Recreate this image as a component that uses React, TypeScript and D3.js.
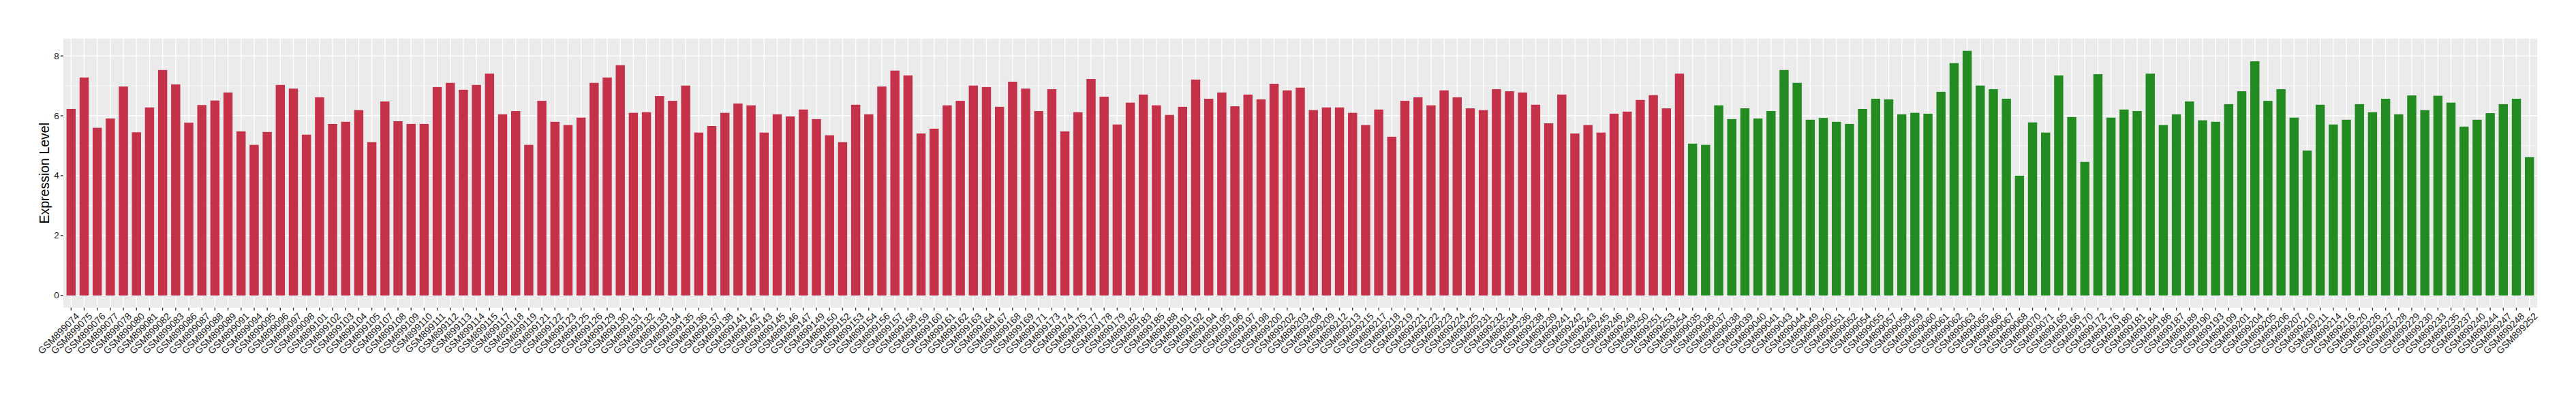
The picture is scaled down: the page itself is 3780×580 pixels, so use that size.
import React from "react";
import * as d3 from "d3";

const redSamples = [
  "GSM899074","GSM899075","GSM899076","GSM899077","GSM899078","GSM899080","GSM899081","GSM899082","GSM899083","GSM899086",
  "GSM899087","GSM899088","GSM899089","GSM899091","GSM899094","GSM899095","GSM899096","GSM899097","GSM899098","GSM899101",
  "GSM899102","GSM899103","GSM899104","GSM899105","GSM899107","GSM899108","GSM899109","GSM899110","GSM899111","GSM899112",
  "GSM899113","GSM899114","GSM899115","GSM899117","GSM899118","GSM899119","GSM899121","GSM899122","GSM899123","GSM899125",
  "GSM899126","GSM899129","GSM899130","GSM899131","GSM899132","GSM899133","GSM899134","GSM899135","GSM899136","GSM899137",
  "GSM899138","GSM899141","GSM899142","GSM899143","GSM899145","GSM899146","GSM899147","GSM899149","GSM899150","GSM899152",
  "GSM899153","GSM899154","GSM899156","GSM899157","GSM899158","GSM899159","GSM899160","GSM899161","GSM899162","GSM899163",
  "GSM899164","GSM899167","GSM899168","GSM899169","GSM899171","GSM899173","GSM899174","GSM899175","GSM899177","GSM899178",
  "GSM899179","GSM899182","GSM899183","GSM899185","GSM899188","GSM899191","GSM899192","GSM899194","GSM899195","GSM899196",
  "GSM899197","GSM899198","GSM899200","GSM899202","GSM899203","GSM899208","GSM899209","GSM899212","GSM899213","GSM899215",
  "GSM899217","GSM899218","GSM899219","GSM899221","GSM899222","GSM899223","GSM899224","GSM899225","GSM899231","GSM899232",
  "GSM899234","GSM899236","GSM899238","GSM899239","GSM899241","GSM899242","GSM899243","GSM899245","GSM899246","GSM899249",
  "GSM899250","GSM899251","GSM899253","GSM899254"
];
const redValues = [
  6.23,7.28,5.60,5.91,6.98,5.45,6.28,7.53,7.05,5.77,
  6.36,6.51,6.78,5.48,5.03,5.46,7.03,6.91,5.37,6.62,
  5.73,5.80,6.19,5.12,6.48,5.82,5.73,5.73,6.96,7.10,
  6.87,7.03,7.41,6.05,6.16,5.03,6.50,5.80,5.69,5.94,
  7.10,7.28,7.69,6.10,6.12,6.66,6.50,7.01,5.44,5.66,
  6.10,6.41,6.35,5.44,6.05,5.98,6.21,5.89,5.35,5.12,
  6.37,6.05,6.98,7.51,7.35,5.41,5.57,6.35,6.50,7.01,
  6.96,6.30,7.14,6.91,6.16,6.89,5.48,6.12,7.23,6.64,
  5.71,6.44,6.71,6.35,6.03,6.30,7.21,6.57,6.78,6.32,
  6.71,6.55,7.07,6.85,6.94,6.19,6.28,6.28,6.10,5.69,
  6.21,5.30,6.50,6.62,6.35,6.85,6.62,6.25,6.19,6.89,
  6.82,6.78,6.37,5.75,6.71,5.41,5.69,5.44,6.07,6.14,
  6.53,6.69,6.25,7.41
];
const greenSamples = [
  "GSM899035","GSM899036","GSM899037","GSM899038","GSM899039","GSM899040","GSM899041","GSM899043","GSM899044","GSM899049",
  "GSM899050","GSM899051","GSM899052","GSM899054","GSM899055","GSM899057","GSM899058","GSM899059","GSM899060","GSM899061",
  "GSM899062","GSM899063","GSM899065","GSM899066","GSM899067","GSM899068","GSM899070","GSM899071","GSM899165","GSM899166",
  "GSM899170","GSM899172","GSM899176","GSM899180","GSM899181","GSM899184","GSM899186","GSM899187","GSM899189","GSM899190",
  "GSM899193","GSM899199","GSM899201","GSM899204","GSM899205","GSM899206","GSM899207","GSM899210","GSM899211","GSM899214",
  "GSM899216","GSM899220","GSM899226","GSM899227","GSM899228","GSM899229","GSM899230","GSM899233","GSM899235","GSM899237",
  "GSM899240","GSM899244","GSM899247","GSM899248","GSM899252"
];
const greenValues = [
  5.07,5.03,6.35,5.89,6.25,5.91,6.16,7.53,7.10,5.87,
  5.93,5.80,5.73,6.23,6.57,6.55,6.05,6.10,6.07,6.80,
  7.76,8.17,7.01,6.89,6.57,4.00,5.78,5.44,7.35,5.96,
  4.46,7.39,5.94,6.21,6.16,7.41,5.69,6.05,6.48,5.85,
  5.80,6.39,6.82,7.82,6.50,6.89,5.94,4.84,6.37,5.71,
  5.87,6.39,6.12,6.57,6.05,6.68,6.19,6.67,6.44,5.64,
  5.87,6.09,6.39,6.57,4.62
];
const yTicks = [0, 2, 4, 6, 8];
const yMinor = [1, 3, 5, 7];
const yTitle = "Expression Level";

const RED = "#C43149";
const GREEN = "#228B22";

export default function App() {
  const W = 3780, H = 580;
  const left = 92.8, right = 3723.2, top = 56.7, bottom = 451.8;
  const rows = [
    ...redSamples.map((s, i) => ({ s, v: redValues[i], c: RED })),
    ...greenSamples.map((s, i) => ({ s, v: greenValues[i], c: GREEN })),
  ];
  const x = d3.scaleBand<string>().domain(rows.map(r => r.s)).range([left, right]).paddingInner(0.3).paddingOuter(0.25);
  const maxV = d3.max(rows, r => r.v) as number;
  const pad = maxV * 0.05;
  const y = d3.scaleLinear().domain([-pad, maxV + pad]).range([bottom, top]);
  const font = "'Liberation Sans', Arial, Helvetica, sans-serif";
  const bw = x.bandwidth();
  return (
    <svg width={W} height={H} style={{ position: "absolute", left: 0, top: 0, background: "#fff" }} fontFamily={font}>
      <rect x={left} y={top} width={right - left} height={bottom - top} fill="#EBEBEB" />
      {yMinor.map(t => (
        <line key={"mn" + t} x1={left} x2={right} y1={y(t)} y2={y(t)} stroke="#fff" strokeWidth={0.7} />
      ))}
      {yTicks.map(t => (
        <line key={"mj" + t} x1={left} x2={right} y1={y(t)} y2={y(t)} stroke="#fff" strokeWidth={1.4} />
      ))}
      {rows.map(r => (
        <line key={"vg" + r.s} x1={(x(r.s) as number) + bw / 2} x2={(x(r.s) as number) + bw / 2} y1={top} y2={bottom} stroke="#fff" strokeWidth={1.4} />
      ))}
      {rows.map(r => (
        <rect key={"b" + r.s} x={x(r.s)} y={y(r.v)} width={bw} height={y(0) - y(r.v)} fill={r.c} />
      ))}
      {yTicks.map(t => (
        <g key={"yt" + t}>
          <line x1={left - 4} x2={left} y1={y(t)} y2={y(t)} stroke="#333" strokeWidth={1.4} />
          <text x={left - 6} y={y(t)} textAnchor="end" dominantBaseline="central" fontSize={13.5} fill="#1a1a1a">{t}</text>
        </g>
      ))}
      {rows.map(r => {
        const cx = (x(r.s) as number) + bw / 2;
        return (
          <g key={"xt" + r.s}>
            <line x1={cx} x2={cx} y1={bottom} y2={bottom + 4} stroke="#333" strokeWidth={1.4} />
            <text transform={`translate(${cx + 5.5},${bottom + 6})rotate(-45)`} textAnchor="end" dominantBaseline="hanging" fontSize={14} fill="#1a1a1a">{r.s}</text>
          </g>
        );
      })}
      <text transform={`translate(65,${(top + bottom) / 2})rotate(-90)`} textAnchor="middle" dominantBaseline="central" fontSize={19.5} fill="#000">{yTitle}</text>
    </svg>
  );
}
